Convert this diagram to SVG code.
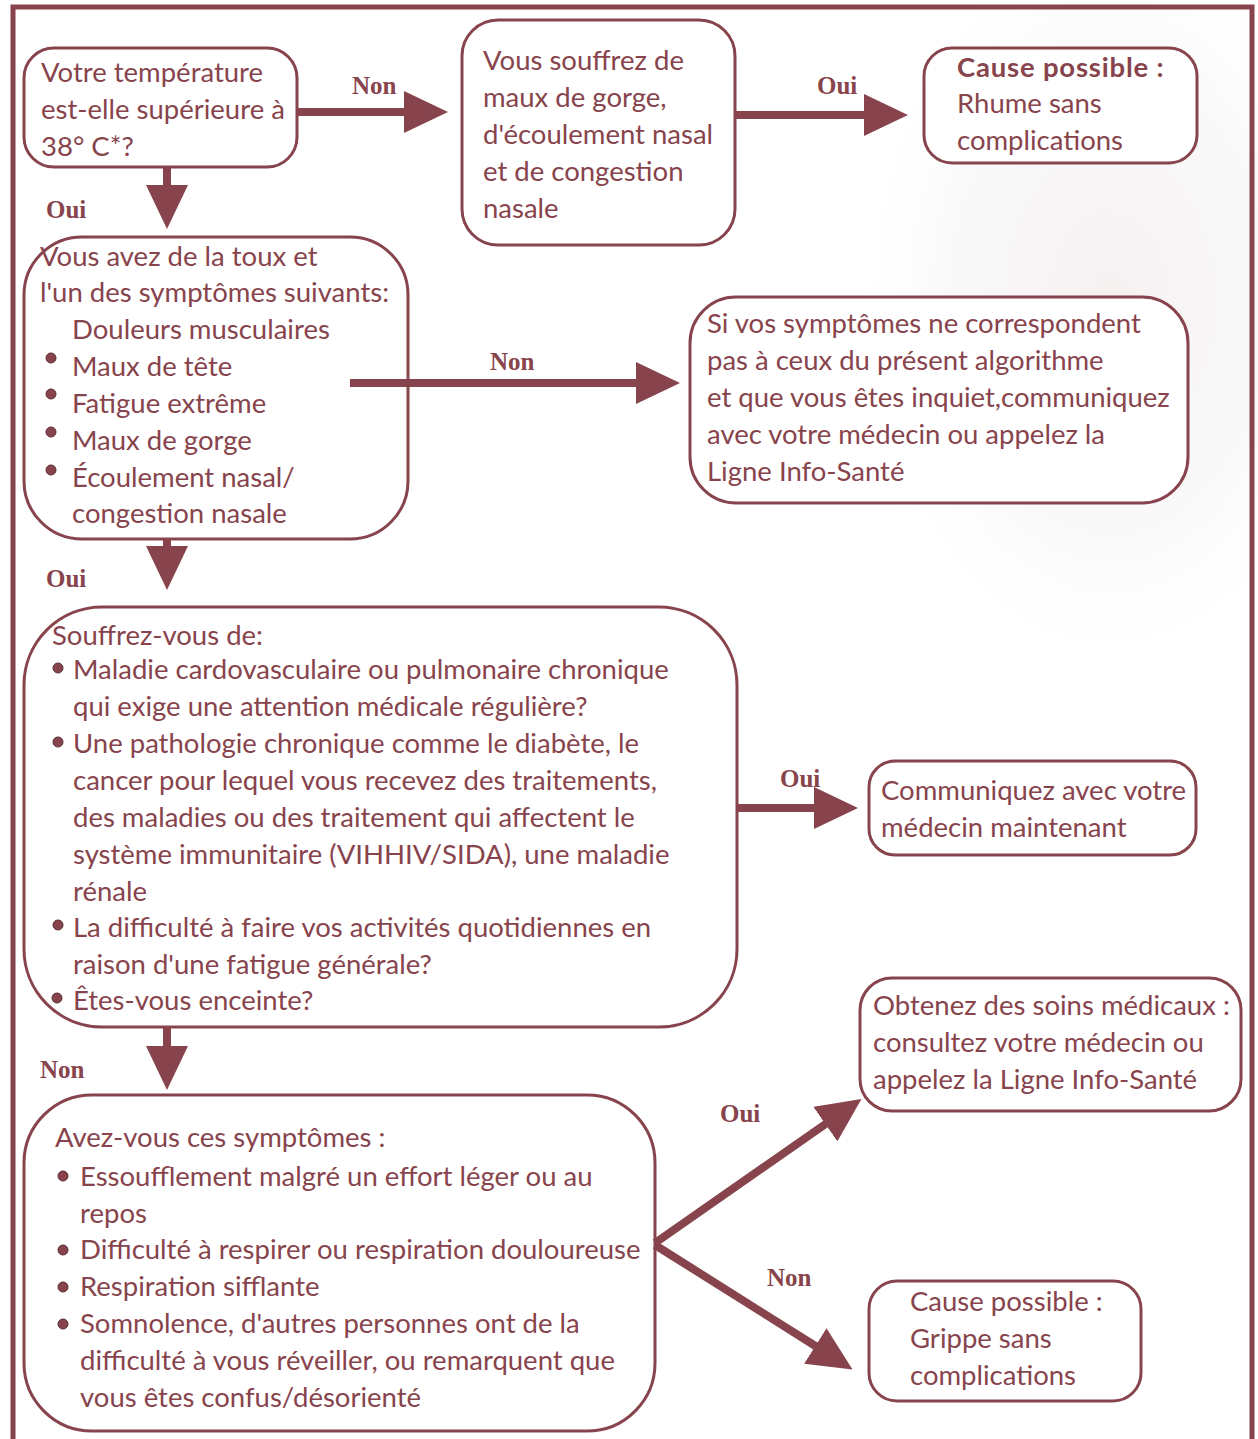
<svg xmlns="http://www.w3.org/2000/svg" width="1258" height="1439" viewBox="0 0 1258 1439">
<defs>
<radialGradient id="wm" cx="0.5" cy="0.5" r="0.5">
<stop offset="0" stop-color="#f2eeee" stop-opacity="0.8"/>
<stop offset="0.6" stop-color="#f4f1f1" stop-opacity="0.5"/>
<stop offset="1" stop-color="#ffffff" stop-opacity="0"/>
</radialGradient>
<marker id="ah" markerUnits="userSpaceOnUse" markerWidth="44" markerHeight="42" refX="2" refY="21" orient="auto">
<path d="M0,0 L44,21 L0,42 Z" fill="#87444c"/>
</marker>
</defs>
<style>
.box{fill:#ffffff;stroke:#87444c;stroke-width:3}
.t{font-family:Lato,"Liberation Sans",sans-serif;font-size:27.5px;fill:#87444c}
.tb{font-family:Lato,"Liberation Sans",sans-serif;font-size:27.5px;font-weight:bold;fill:#87444c;letter-spacing:0.8px}
.lbl{font-family:"Liberation Serif",serif;font-size:25px;font-weight:bold;fill:#87444c}
.c{stroke:#87444c;stroke-width:8;fill:none;marker-end:url(#ah)}
.b{fill:#87444c;stroke:#5a2e33;stroke-width:1}
.frame{stroke:#87444c;stroke-width:5;fill:none}
</style>
<rect width="1258" height="1439" fill="#ffffff"/>
<ellipse cx="1110" cy="300" rx="260" ry="380" fill="url(#wm)"/>
<path class="frame" d="M13,1439 V7 H1252 V1439"/>

<g id="n1">
<rect class="box" x="24" y="48" width="273" height="119" rx="30"/>
<text class="t" x="41" y="82">Votre température</text>
<text class="t" x="41" y="119">est-elle supérieure à</text>
<text class="t" x="41" y="156">38° C*?</text>
</g>

<g id="n2">
<rect class="box" x="462" y="20" width="273" height="225" rx="36"/>
<text class="t" x="483" y="70">Vous souffrez de</text>
<text class="t" x="483" y="107">maux de gorge,</text>
<text class="t" x="483" y="144">d'écoulement nasal</text>
<text class="t" x="483" y="181">et de congestion</text>
<text class="t" x="483" y="218">nasale</text>
</g>

<g id="n3">
<rect class="box" x="924" y="48" width="273" height="115" rx="28"/>
<text class="tb" x="957" y="77">Cause possible :</text>
<text class="t" x="957" y="113">Rhume sans</text>
<text class="t" x="957" y="150">complications</text>
</g>

<g id="n4">
<rect class="box" x="24" y="237" width="384" height="302" rx="58"/>
<text class="t" x="40" y="266">Vous avez de la toux et</text>
<text class="t" x="40" y="302">l'un des symptômes suivants:</text>
<text class="t" x="72" y="339">Douleurs musculaires</text>
<text class="t" x="72" y="376">Maux de tête</text>
<text class="t" x="72" y="413">Fatigue extrême</text>
<text class="t" x="72" y="450">Maux de gorge</text>
<text class="t" x="72" y="487">Écoulement nasal/</text>
<text class="t" x="72" y="523">congestion nasale</text>
<circle class="b" cx="51" cy="358" r="5"/>
<circle class="b" cx="51" cy="394" r="5"/>
<circle class="b" cx="51" cy="432" r="5"/>
<circle class="b" cx="51" cy="470" r="5"/>
</g>

<g id="n5">
<rect class="box" x="690" y="297" width="498" height="206" rx="46"/>
<text class="t" x="707" y="333">Si vos symptômes ne correspondent</text>
<text class="t" x="707" y="370">pas à ceux du présent algorithme</text>
<text class="t" x="707" y="407">et que vous êtes inquiet,communiquez</text>
<text class="t" x="707" y="444">avec votre médecin ou appelez la</text>
<text class="t" x="707" y="481">Ligne Info-Santé</text>
</g>

<g id="n6">
<rect class="box" x="24" y="607" width="713" height="420" rx="78"/>
<text class="t" x="52" y="645">Souffrez-vous de:</text>
<text class="t" x="73" y="679">Maladie cardovasculaire ou pulmonaire chronique</text>
<text class="t" x="73" y="716">qui exige une attention médicale régulière?</text>
<text class="t" x="73" y="753">Une pathologie chronique comme le diabète, le</text>
<text class="t" x="73" y="790">cancer pour lequel vous recevez des traitements,</text>
<text class="t" x="73" y="827">des maladies ou des traitement qui affectent le</text>
<text class="t" x="73" y="864">système immunitaire (VIHHIV/SIDA), une maladie</text>
<text class="t" x="73" y="901">rénale</text>
<text class="t" x="73" y="937">La difficulté à faire vos activités quotidiennes en</text>
<text class="t" x="73" y="974">raison d'une fatigue générale?</text>
<text class="t" x="73" y="1010">Êtes-vous enceinte?</text>
<circle class="b" cx="58" cy="668" r="5"/>
<circle class="b" cx="58" cy="742" r="5"/>
<circle class="b" cx="58" cy="925" r="5"/>
<circle class="b" cx="57" cy="998" r="5"/>
</g>

<g id="n7">
<rect class="box" x="869" y="761" width="327" height="94" rx="26"/>
<text class="t" x="881" y="800">Communiquez avec votre</text>
<text class="t" x="881" y="837">médecin maintenant</text>
</g>

<g id="n8">
<rect class="box" x="24" y="1095" width="631" height="336" rx="68"/>
<text class="t" x="55" y="1147">Avez-vous ces symptômes :</text>
<text class="t" x="80" y="1186">Essoufflement malgré un effort léger ou au</text>
<text class="t" x="80" y="1223">repos</text>
<text class="t" x="80" y="1259">Difficulté à respirer ou respiration douloureuse</text>
<text class="t" x="80" y="1296">Respiration sifflante</text>
<text class="t" x="80" y="1333">Somnolence, d'autres personnes ont de la</text>
<text class="t" x="80" y="1370">difficulté à vous réveiller, ou remarquent que</text>
<text class="t" x="80" y="1407">vous êtes confus/désorienté</text>
<circle class="b" cx="63" cy="1176" r="5"/>
<circle class="b" cx="63" cy="1250" r="5"/>
<circle class="b" cx="63" cy="1287" r="5"/>
<circle class="b" cx="63" cy="1324" r="5"/>
</g>

<g id="n9">
<rect class="box" x="860" y="978" width="381" height="133" rx="32"/>
<text class="t" x="873" y="1015">Obtenez des soins médicaux :</text>
<text class="t" x="873" y="1052">consultez votre médecin ou</text>
<text class="t" x="873" y="1089">appelez la Ligne Info-Santé</text>
</g>

<g id="n10">
<rect class="box" x="869" y="1281" width="272" height="120" rx="28"/>
<text class="t" x="910" y="1311">Cause possible :</text>
<text class="t" x="910" y="1348">Grippe sans</text>
<text class="t" x="910" y="1385">complications</text>
</g>

<g id="connectors">
<line class="c" x1="297" y1="112" x2="406" y2="112"/>
<line class="c" x1="735" y1="115" x2="866" y2="115"/>
<line class="c" x1="167" y1="167" x2="167" y2="187"/>
<line class="c" x1="350" y1="383" x2="638" y2="383"/>
<line class="c" x1="167" y1="539" x2="167" y2="548"/>
<line class="c" x1="737" y1="808" x2="816" y2="808"/>
<line class="c" x1="167" y1="1027" x2="167" y2="1048"/>
<line class="c" x1="655" y1="1243" x2="827" y2="1123"/>
<line class="c" x1="655" y1="1245" x2="817" y2="1347"/>
<text class="lbl" x="352" y="94">Non</text>
<text class="lbl" x="817" y="94">Oui</text>
<text class="lbl" x="46" y="218">Oui</text>
<text class="lbl" x="490" y="370">Non</text>
<text class="lbl" x="46" y="587">Oui</text>
<text class="lbl" x="780" y="787">Oui</text>
<text class="lbl" x="40" y="1078">Non</text>
<text class="lbl" x="720" y="1122">Oui</text>
<text class="lbl" x="767" y="1286">Non</text>
</g>
</svg>
